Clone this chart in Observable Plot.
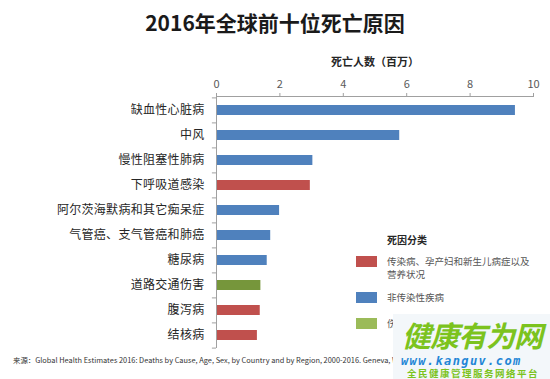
<!DOCTYPE html>
<html>
<head>
<meta charset="utf-8">
<script src="https://cdn.jsdelivr.net/npm/d3@7"></script>
<script src="https://cdn.jsdelivr.net/npm/@observablehq/plot@0.6"></script>
<style>
  html, body { margin: 0; padding: 0; background: #fff; }
  body { width: 550px; height: 379px; position: relative; overflow: hidden;
         font-family: "Noto Sans CJK SC", "Noto Sans", sans-serif; }
  #title { position: absolute; left: 0; top: 0; width: 550px; height: 44px; line-height: 44px;
           text-align: center; font-size: 21px; font-weight: bold; color: #1a1a1a; }
  #chart { position: absolute; left: 0; top: 44px; }
  #chart g[aria-label="x-axis tick label"] text { font-size: 11px; fill: #595959; }
  #chart g[aria-label="x-axis tick"] { stroke: #a0a0a0; }
  #chart g[aria-label="x-axis label"] text { font-size: 11px; font-weight: bold; fill: #262626; }
  #chart g[aria-label="y-axis tick label"] text { font-size: 12px; fill: #262626; letter-spacing: 0.3px; }
  #legend { position: absolute; left: 356px; top: 231px; width: 190px; font-size: 9.5px; color: #555; }
  #legend .head { margin-left: 31px; font-weight: bold; color: #262626; font-size: 10px; height: 18px; line-height: 18px; }
  #legend .item { position: relative; padding-left: 31px; line-height: 13px; }
  #legend .sw { position: absolute; left: 0; width: 21px; height: 11px; }
  #caption { position: absolute; left: 13px; top: 354px; font-size: 7.4px; color: #333; white-space: nowrap; }
  #mark { position: absolute; left: 393px; top: 314px; width: 157px; height: 65px; background: #f3f7fa; overflow: hidden; }
  #mark .big { position: absolute; left: 9px; top: 2px; font-size: 29px; font-style: italic; font-weight: bold;
               color: #7cc31e; line-height: 36px; letter-spacing: -1px; white-space: nowrap; }
  #mark .url { position: absolute; left: 8px; top: 41px; font-size: 12px; line-height: 13px; font-style: italic; font-weight: bold;
               color: #1f86d6; letter-spacing: 1.4px; font-family: "DejaVu Sans Mono", monospace; white-space: nowrap; }
  #mark .sub { position: absolute; left: 14px; top: 54px; font-size: 9.5px; line-height: 10px; font-weight: bold; color: #7cc31e;
               letter-spacing: 1.5px; white-space: nowrap; }
</style>
</head>
<body>
<div id="title">2016年全球前十位死亡原因</div>
<div id="chart"></div>
<div id="legend"></div>
<div id="caption"></div>
<div id="mark"><div class="big">健康有为网</div><div class="url">www.kanguv.com</div><div class="sub">全民健康管理服务网络平台</div></div>
<script>
// ---- data ----
const causes = ["缺血性心脏病", "中风", "慢性阻塞性肺病", "下呼吸道感染", "阿尔茨海默病和其它痴呆症",
                "气管癌、支气管癌和肺癌", "糖尿病", "道路交通伤害", "腹泻病", "结核病"];
const deaths = [9.43, 5.78, 3.04, 2.96, 1.99, 1.71, 1.60, 1.40, 1.38, 1.29];
const groups = ["非传染性疾病", "非传染性疾病", "非传染性疾病", "传染病、孕产妇和新生儿病症以及营养状况",
                "非传染性疾病", "非传染性疾病", "非传染性疾病", "伤害",
                "传染病、孕产妇和新生儿病症以及营养状况", "传染病、孕产妇和新生儿病症以及营养状况"];
const groupNames = ["传染病、孕产妇和新生儿病症以及营养状况", "非传染性疾病", "伤害"];
const barColors = ["#c0504d", "#4f81bd", "#76963b"];
const legendColors = ["#c0504d", "#4f81bd", "#9bbb59"];
const xTicks = [0, 2, 4, 6, 8, 10];
const axisTitle = "死亡人数（百万）";
const legendTitle = "死因分类";
const captionText = "来源：Global Health Estimates 2016: Deaths by Cause, Age, Sex, by Country and by Region, 2000-2016. Geneva, World Health Organization; 2018.";

const rows = causes.map((c, i) => ({cause: c, deaths: deaths[i], group: groups[i]}));

const W = 550, H = 308, mT = 52, mB = 4, mL = 216, mR = 17;
const step = (H - mT - mB) / causes.length;

const chart = Plot.plot({
  width: W, height: H,
  marginTop: mT, marginBottom: mB, marginLeft: mL, marginRight: mR,
  style: {fontFamily: '"Noto Sans CJK SC", "Noto Sans", sans-serif', background: "#fff"},
  x: {domain: [0, 10], axis: "top", ticks: xTicks, tickSize: 4, tickPadding: 5,
      label: axisTitle, labelAnchor: "center", labelOffset: 38, labelArrow: "none"},
  y: {domain: causes, paddingInner: 0.62, paddingOuter: 0.31, tickSize: 0, tickPadding: 12, label: null},
  color: {domain: groupNames, range: barColors},
  marks: [
    Plot.barX(rows, {x: "deaths", y: "cause", fill: "group"}),
    Plot.ruleY(causes, {y: d => d, x1: -0.13, x2: 0, dy: -step / 2, stroke: "#a0a0a0"}),
    Plot.ruleY([causes[causes.length - 1]], {y: d => d, x1: -0.13, x2: 0, dy: step / 2, stroke: "#a0a0a0"}),
    Plot.ruleX([0], {stroke: "#a0a0a0"}),
    Plot.frame({anchor: "top", stroke: "#a0a0a0"})
  ]
});
document.getElementById("chart").appendChild(chart);

// legend
const lg = document.getElementById("legend");
lg.innerHTML = `<div class="head">${legendTitle}</div>`;
const legendLabels = ["传染病、孕产妇和新生儿病症以及<br>营养状况", "非传染性疾病", "伤害"];
const legendGaps = ["10px", "10px", "13px"];
groupNames.forEach((g, i) => {
  const d = document.createElement("div");
  d.className = "item";
  d.style.marginTop = i === 0 ? "6px" : legendGaps[i];
  d.innerHTML = `<span class="sw" style="background:${legendColors[i]};top:1px"></span>${legendLabels[i]}`;
  lg.appendChild(d);
});
document.getElementById("caption").textContent = captionText;
</script>
</body>
</html>
